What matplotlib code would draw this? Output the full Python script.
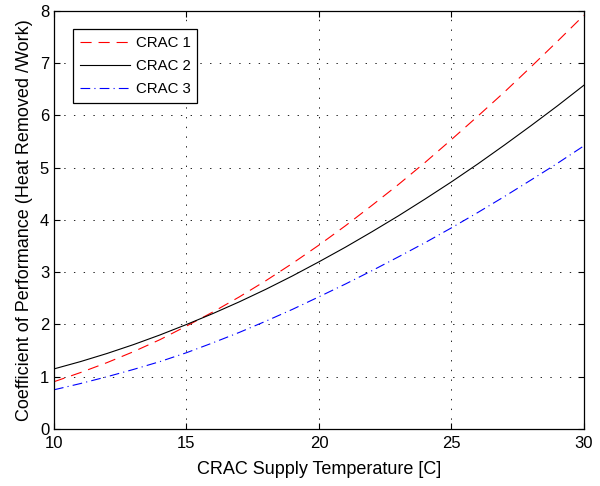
import numpy as np
import matplotlib.pyplot as plt
import matplotlib as mpl

mpl.rcParams['font.family'] = ['Liberation Sans', 'DejaVu Sans']
mpl.rcParams['lines.scale_dashes'] = False

# supply temperature [C] and COP for each CRAC unit
temp = [10, 11, 12, 13, 14, 15, 16, 17, 18, 19, 20,
        21, 22, 23, 24, 25, 26, 27, 28, 29, 30]
cop_crac1 = [0.905, 1.08, 1.27, 1.48, 1.71, 1.97, 2.24, 2.53, 2.84, 3.17, 3.52,
             3.89, 4.28, 4.68, 5.10, 5.54, 5.99, 6.45, 6.93, 7.42, 7.92]
cop_crac2 = [1.15, 1.29, 1.445, 1.615, 1.80, 2.00, 2.21, 2.435, 2.675, 2.93, 3.20,
             3.48, 3.775, 4.08, 4.40, 4.73, 5.075, 5.435, 5.805, 6.185, 6.58]
cop_crac3 = [0.75, 0.87, 1.00, 1.14, 1.29, 1.46, 1.65, 1.85, 2.065, 2.29, 2.53,
             2.775, 3.03, 3.295, 3.565, 3.85, 4.145, 4.45, 4.765, 5.085, 5.42]
labels = ["CRAC 1", "CRAC 2", "CRAC 3"]

fig = plt.figure(figsize=(6, 4.86), dpi=100)
ax = fig.add_axes([0.09, 0.1173, 0.8833, 0.8601])

ax.plot(temp, cop_crac1, color=(1, 0, 0), lw=0.8, dashes=(8, 5), label=labels[0])
ax.plot(temp, cop_crac2, color='k', lw=0.8, label=labels[1])
ax.plot(temp, cop_crac3, color=(0, 0, 1), lw=0.8, dashes=(7, 3, 0.8, 3), label=labels[2])

ax.set_xlim(10, 30)
ax.set_ylim(0, 8)
ax.set_xticks([10, 15, 20, 25, 30])
ax.set_yticks(range(0, 9))
ax.grid(True, color='k', lw=0.6, linestyle=(0, (1, 6)))
ax.tick_params(direction='in', top=True, right=True, length=4, width=0.8,
               labelsize=12)
ax.tick_params(axis='x', pad=5)
ax.tick_params(axis='y', pad=3.5)
for s in ax.spines.values():
    s.set_linewidth(0.9)

ax.set_xlabel("CRAC Supply Temperature [C]", fontsize=13, labelpad=7)
ax.set_ylabel("Coefficient of Performance (Heat Removed /Work)", fontsize=13, labelpad=5)

leg = ax.legend(loc='upper left', bbox_to_anchor=(0.0364, 0.956), fontsize=10.8,
                fancybox=False, edgecolor='k', framealpha=1, handlelength=3.3,
                handletextpad=0.4, labelspacing=0.6, borderaxespad=0, borderpad=0.45)
leg.get_frame().set_linewidth(0.9)

plt.savefig("out.png", dpi=100)
